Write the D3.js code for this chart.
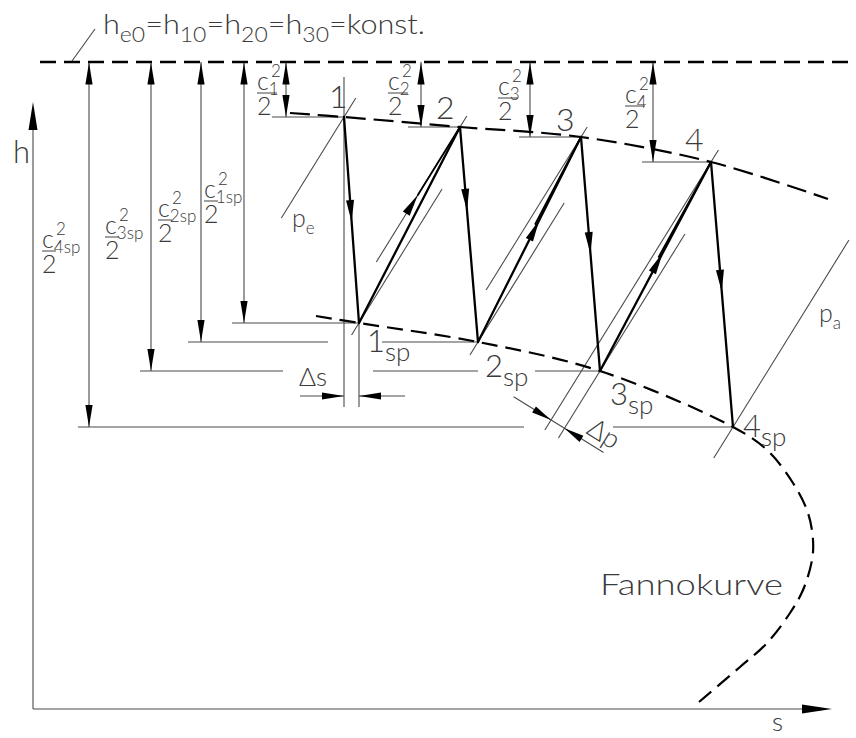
<!DOCTYPE html>
<html><head><meta charset="utf-8">
<script src="https://cdn.jsdelivr.net/npm/d3@7"></script>
<style>
html,body{margin:0;padding:0;background:#fff;}
svg{display:block;}
text{font-family:Lato,"Open Sans","DejaVu Sans",sans-serif;font-weight:300;fill:#3a3a3a;}
</style></head><body>
<svg id="chart" width="856" height="738"></svg>
<script>
// ---------------- data (diagram units: s to the right, h upwards) ----------------
const hKonst = 647;                         // h_e0 = h_10 = h_20 = h_30
const topNames = ["1", "2", "3", "4"];
const topS = [311, 427, 548, 678];
const topH = [592, 582, 572, 547];
const spNames = ["1", "2", "3", "4"];
const spS = [326, 445, 567, 700];
const spH = [386, 367, 338, 282];
const upperS = [257, 311, 427, 548, 678, 795];
const upperH = [596, 592, 582, 572, 547, 510];
const fannoS = [283, 326, 445, 567, 700, 734, 760, 775, 780, 779, 770, 757, 734, 707, 666];
const fannoH = [393, 386, 367, 338, 282, 259, 226, 196, 169, 149, 119, 96, 66, 42, 7];
const isobarSlope = 0.62;                   // ds/dh of p = const lines

// ---------------- layout ----------------
const L = {
  dimTopS: [253, 388, 497, 620],
  extTopS: [239, 375, 486, 609],
  dimSpS: [211, 168, 118, 56],
  extSpS: [199, 155, 107, 45],
  gapSp: [[], [[295, 349]], [[250, 340], [445, 502]], [[491, 580]]],
  downT: [0.51, 0.39, 0.5, 0.49],
  upT: [null, 0.595, 0.565],
  topIsoDown: [-101, -135, -153, -268], topIsoUp: [19, 11, 10, 12],
  spIsoDown: [-12, -13, -67, -31], spIsoUp: [134, 139, 137, 187],
  topLab: [[-15, -9], [-24, -8], [-25, -6], [-26, -11]],
  spLab: [[8, 29], [7, 35], [10, 34], [10, 10]]
};

const svg = d3.select("#chart");
const x = d3.scaleLinear().domain([0, 800]).range([33, 833]);
const y = d3.scaleLinear().domain([0, 647]).range([709, 62]);

const gThin = svg.append("g").attr("stroke", "#4a4a4a").attr("stroke-width", 1.1).attr("fill", "none");
const gDash = svg.append("g").attr("stroke", "#000").attr("stroke-width", 2.2).attr("fill", "none");
const gThick = svg.append("g").attr("stroke", "#000").attr("stroke-width", 2.3).attr("fill", "none").attr("stroke-linecap", "round");
const gHead = svg.append("g").attr("fill", "#000");
const gText = svg.append("g");

function seg(g, s1, h1, s2, h2) {
  return g.append("line").attr("x1", x(s1)).attr("y1", y(h1)).attr("x2", x(s2)).attr("y2", y(h2));
}
function headPx(tx, ty, dx, dy, len, w) {
  const n = Math.hypot(dx, dy); dx /= n; dy /= n;
  const bx = tx - dx * len, by = ty - dy * len;
  gHead.append("path").attr("d",
    `M${tx},${ty}L${bx - dy * w},${by + dx * w}L${bx + dy * w},${by - dx * w}Z`);
}
function head(tipS, tipH, fromS, fromH, len, w) {
  headPx(x(tipS), y(tipH), x(tipS) - x(fromS), y(tipH) - y(fromH), len, w);
}
function iso(s0, h0, dh) { return [s0 + isobarSlope * dh, h0 + dh]; }

// ---------------- axes ----------------
seg(gThin, 0, 0, 0, 600); head(0, 607, 0, 0, 28, 4.5);
seg(gThin, 0, 0, 792, 0); head(799, 0, 0, 0, 30, 4.5);
gText.append("text").attr("x", 13).attr("y", 163).attr("font-size", 31).text("h");
gText.append("text").attr("x", 772).attr("y", 731).attr("font-size", 26).text("s");

// ---------------- top constant line + title ----------------
seg(gDash, 7, hKonst, 823, hKonst).attr("stroke-dasharray", "16,8").attr("stroke-width", 2.4);
seg(gThin, 39, 648, 62, 680);
const title = gText.append("text").attr("x", 103).attr("y", 34).attr("font-size", 28)
  .attr("textLength", 322).attr("lengthAdjust", "spacingAndGlyphs");
const titleParts = [["h", "e0"], ["=h", "10"], ["=h", "20"], ["=h", "30"], ["=konst.", null]];
titleParts.forEach(([main, sub], i) => {
  title.append("tspan").attr("dy", i === 0 ? 0 : -8).text(main);
  if (sub) title.append("tspan").attr("font-size", 21).attr("dy", 8).text(sub);
});

// ---------------- dimension lines c_k^2/2 ----------------
topS.forEach((s, k) => {
  seg(gThin, L.dimTopS[k], hKonst, L.dimTopS[k], topH[k]);
  head(L.dimTopS[k], hKonst - 0.5, L.dimTopS[k], topH[k], 22, 3.6);
  head(L.dimTopS[k], topH[k], L.dimTopS[k], hKonst, 22, 3.6);
  seg(gThin, L.extTopS[k], topH[k], s, topH[k]);
});
spS.forEach((s, k) => {
  seg(gThin, L.dimSpS[k], hKonst, L.dimSpS[k], spH[k]);
  head(L.dimSpS[k], hKonst - 0.5, L.dimSpS[k], spH[k], 22, 3.6);
  head(L.dimSpS[k], spH[k], L.dimSpS[k], hKonst, 22, 3.6);
  let start = L.extSpS[k];
  L.gapSp[k].forEach(([a, b]) => { seg(gThin, start, spH[k], a, spH[k]); start = b; });
  seg(gThin, start, spH[k], s, spH[k]);
});

// ---------------- Δs ----------------
seg(gThin, topS[0], 632, topS[0], 302);
seg(gThin, spS[0], spH[0], spS[0], 302);
seg(gThin, topS[0] - 44, 313, topS[0], 313); head(topS[0], 313, topS[0] - 44, 313, 22, 3.6);
seg(gThin, spS[0] + 46, 313, spS[0], 313); head(spS[0], 313, spS[0] + 46, 313, 22, 3.6);
gText.append("text").attr("x", 299).attr("y", 386).attr("font-size", 26).text("\u0394s");

// ---------------- isobars ----------------
topS.forEach((s, k) => {
  const a = iso(s, topH[k], L.topIsoDown[k]), b = iso(s, topH[k], L.topIsoUp[k]);
  seg(gThin, a[0], a[1], b[0], b[1]);
});
spS.forEach((s, k) => {
  const a = iso(s, spH[k], L.spIsoDown[k]), b = iso(s, spH[k], L.spIsoUp[k]);
  seg(gThin, a[0], a[1], b[0], b[1]);
});
gText.append("text").attr("x", 292).attr("y", 227).attr("font-size", 25).text("p")
  .append("tspan").attr("font-size", 17).attr("dy", 7).text("e");
gText.append("text").attr("x", 819).attr("y", 322).attr("font-size", 25).text("p")
  .append("tspan").attr("font-size", 17).attr("dy", 7).text("a");

// ---------------- Δp ----------------
(function () {
  const t1 = iso(topS[3], topH[3], -258);
  const p1 = [x(t1[0]), y(t1[1])];
  const u = [isobarSlope, -1]; const un = Math.hypot(u[0], u[1]); u[0] /= un; u[1] /= un;
  const o = [x(spS[2]), y(spH[2])];
  const v = [p1[0] - o[0], p1[1] - o[1]];
  const c = v[0] * u[0] + v[1] * u[1];
  const p2 = [o[0] + c * u[0], o[1] + c * u[1]];
  const d = [-u[1], u[0]];
  const a = [p1[0] - d[0] * 44, p1[1] - d[1] * 44], b = [p2[0] + d[0] * 46, p2[1] + d[1] * 46];
  gThin.append("line").attr("x1", a[0]).attr("y1", a[1]).attr("x2", b[0]).attr("y2", b[1]);
  headPx(p1[0], p1[1], d[0], d[1], 20, 3.6);
  headPx(p2[0], p2[1], -d[0], -d[1], 20, 3.6);
  const ang = Math.atan2(d[1], d[0]) * 180 / Math.PI;
  gText.append("text").attr("transform", `translate(${p2[0] + d[0] * 22 + 2},${p2[1] + d[1] * 22 - 7}) rotate(${ang})`)
    .attr("font-size", 27).text("\u0394p");
})();

// ---------------- curves ----------------
const curve = d3.line().x(d => x(d[0])).y(d => y(d[1])).curve(d3.curveCatmullRom.alpha(0.5));
gDash.append("path").attr("d", curve(upperS.map((s, i) => [s, upperH[i]]))).attr("stroke-dasharray", "20,8");
gDash.append("path").attr("d", curve(fannoS.map((s, i) => [s, fannoH[i]]))).attr("stroke-dasharray", "16,8");
gText.append("text").attr("x", 600).attr("y", 595).attr("font-size", 29)
  .attr("textLength", 183).attr("lengthAdjust", "spacingAndGlyphs").text("Fannokurve");

// ---------------- process lines ----------------
topS.forEach((s, k) => {
  seg(gThick, s, topH[k], spS[k], spH[k]);
  const t = L.downT[k];
  const ts = s + (spS[k] - s) * t, th = topH[k] + (spH[k] - topH[k]) * t;
  head(ts, th, s, topH[k], 22, 4);
});
for (let k = 0; k < 3; k++) {
  seg(gThick, spS[k], spH[k], topS[k + 1], topH[k + 1]);
  if (k === 0) {
    const tip = iso(topS[1], topH[1], -68);
    const from = iso(topS[1], topH[1], -120);
    seg(gThick, tip[0], tip[1], topS[1], topH[1]).attr("stroke-width", 1.8);
    head(tip[0], tip[1], from[0], from[1], 22, 4);
  } else {
    const t = L.upT[k];
    const ts = spS[k] + (topS[k + 1] - spS[k]) * t, th = spH[k] + (topH[k + 1] - spH[k]) * t;
    seg(gThick, ts - 4, th - 4, topS[k + 1], topH[k + 1]).attr("stroke-width", 1.8);
    head(ts, th, spS[k], spH[k], 22, 4);
  }
}

// ---------------- point labels ----------------
topNames.forEach((n, k) => {
  gText.append("text").attr("x", x(topS[k]) + L.topLab[k][0]).attr("y", y(topH[k]) + L.topLab[k][1])
    .attr("font-size", 32).text(n);
});
spNames.forEach((n, k) => {
  const t = gText.append("text").attr("x", x(spS[k]) + L.spLab[k][0]).attr("y", y(spH[k]) + L.spLab[k][1])
    .attr("font-size", 31).text(n);
  t.append("tspan").attr("font-size", 26).attr("dy", 9).text("sp");
});

// ---------------- fraction labels c^2/2 (one text element each) ----------------
function frac(left, bar, sub, barW) {
  const t = gText.append("text").attr("x", left).attr("y", bar - 3).attr("font-size", 25);
  t.append("tspan").text("c");
  t.append("tspan").attr("font-size", 17).attr("dy", 5).text(sub);
  t.append("tspan").attr("font-size", 17).attr("x", left + 14).attr("dy", -18).text("2");
  t.append("tspan").attr("x", left).attr("dy", 38).text("2");
  gThin.append("line").attr("x1", left).attr("x2", left + barW).attr("y1", bar).attr("y2", bar).attr("stroke", "#555");
}
frac(257, 93, "1", 20);
frac(388, 93, "2", 20);
frac(498, 98, "3", 20);
frac(625, 106, "4", 20);
frac(42, 251, "4sp", 14);
frac(105, 237, "3sp", 14);
frac(158, 220, "2sp", 14);
frac(204, 201, "1sp", 14);
</script>
</body></html>
